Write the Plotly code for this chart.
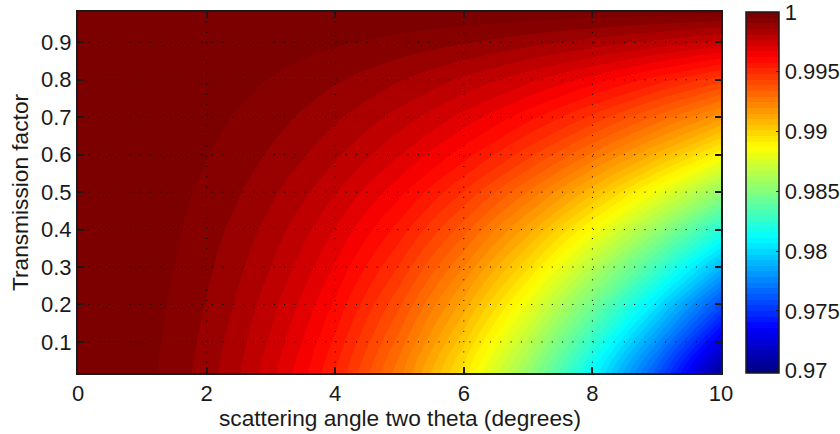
import plotly.graph_objects as go

angle_deg = [0, 1, 1.5, 2, 2.5, 3, 3.5, 4, 5, 6, 7, 8, 9, 10]
transmission = [0.017, 0.05, 0.1, 0.2, 0.3, 0.4, 0.5, 0.6, 0.7, 0.8, 0.9, 0.981]
# drop below 1, in units of 1e-4 (row per transmission value)
drop = [
    [0, 2.95, 6.64, 11.8, 18.44, 26.55, 36.14, 47.2, 73.75, 106.2, 144.55, 188.8, 238.95, 295],
    [0, 2.87, 6.46, 11.48, 17.94, 25.83, 35.16, 45.92, 71.75, 103.32, 140.63, 183.68, 232.47, 287],
    [0, 2.72, 6.12, 10.88, 17.0, 24.48, 33.32, 43.52, 68, 97.92, 133.28, 174.08, 220.32, 272],
    [0, 2.42, 5.45, 9.68, 15.13, 21.78, 29.65, 38.72, 60.5, 87.12, 118.58, 154.88, 196.02, 242],
    [0, 2.1, 4.73, 8.4, 13.13, 18.9, 25.73, 33.6, 52.5, 75.6, 102.9, 134.4, 170.1, 210],
    [0, 1.78, 4.01, 7.12, 11.13, 16.02, 21.81, 28.48, 44.5, 64.08, 87.22, 113.92, 144.18, 178],
    [0, 1.45, 3.26, 5.8, 9.06, 13.05, 17.76, 23.2, 36.25, 52.2, 71.05, 92.8, 117.45, 145],
    [0, 1.12, 2.52, 4.48, 7, 10.08, 13.72, 17.92, 28, 40.32, 54.88, 71.68, 90.72, 112],
    [0, 0.83, 1.87, 3.32, 5.19, 7.47, 10.17, 13.28, 20.75, 29.88, 40.67, 53.12, 67.23, 83],
    [0, 0.55, 1.24, 2.2, 3.44, 4.95, 6.74, 8.8, 13.75, 19.8, 26.95, 35.2, 44.55, 55],
    [0, 0.25, 0.56, 1, 1.56, 2.25, 3.06, 4, 6.25, 9, 12.25, 16, 20.25, 25],
    [0, 0.03, 0.07, 0.12, 0.19, 0.27, 0.37, 0.48, 0.75, 1.08, 1.47, 1.92, 2.43, 3],
]
x_ticks = [0, 2, 4, 6, 8, 10]
y_ticks = [0.1, 0.2, 0.3, 0.4, 0.5, 0.6, 0.7, 0.8, 0.9]
cbar_ticks = [0.97, 0.975, 0.98, 0.985, 0.99, 0.995, 1]
cbar_labels = ["0.97", "0.975", "0.98", "0.985", "0.99", "0.995", "1"]
x_label = "scattering angle two theta (degrees)"
y_label = "Transmission factor"

jet = [
    [0, "rgb(0,0,128)"], [0.125, "rgb(0,0,255)"], [0.375, "rgb(0,255,255)"],
    [0.625, "rgb(255,255,0)"], [0.875, "rgb(255,0,0)"], [0.985, "rgb(125,0,0)"], [1, "rgb(125,0,0)"],
]
FONT = "Liberation Sans"
INK = "#1a1a1a"
TICK_SIZE = 22
TITLE_SIZE = 22.7
z = [[1 - d * 1e-4 for d in row] for row in drop]

fig = go.Figure(go.Contour(
    x=angle_deg, y=transmission, z=z,
    colorscale=jet, zmin=0.9698, zmax=1,
    autocontour=False,
    contours=dict(start=0.9698, end=1.0002, size=0.0302 / 64, coloring="fill", showlines=False),
    line=dict(width=0, smoothing=1.0),
    hoverinfo="skip",
    colorbar=dict(
        x=1.0388, xanchor="left", xpad=0, ypad=0, y=0.5, yanchor="middle", len=1,
        thicknessmode="pixels", thickness=33,
        tickmode="array", tickvals=cbar_ticks, ticktext=cbar_labels,
        ticks="inside", ticklen=3, tickcolor=INK, tickwidth=1,
        outlinecolor=INK, outlinewidth=1.5, ticklabeloverflow="allow",
        tickfont=dict(family=FONT, size=TICK_SIZE, color=INK),
    ),
))

shapes = []
for v in x_ticks[1:-1]:
    shapes.append(dict(type="line", layer="above", xref="x", yref="paper", x0=v, x1=v, y0=0, y1=1,
                       line=dict(color="black", width=1, dash="1px,9.3px")))
for v in y_ticks:
    shapes.append(dict(type="line", layer="above", xref="paper", yref="y", x0=0, x1=1, y0=v, y1=v,
                       line=dict(color="black", width=1, dash="1px,9.3px")))

axis = dict(showgrid=False, zeroline=False, showline=True, linecolor=INK, linewidth=2,
            mirror="allticks", ticks="inside", ticklen=6, tickcolor=INK, tickwidth=1.5,
            automargin=False, tickfont=dict(family=FONT, size=TICK_SIZE, color=INK))

fig.update_layout(
    width=880, height=434, autosize=False,
    margin=dict(l=77.5, r=159, t=11.5, b=61),
    paper_bgcolor="white", plot_bgcolor="white",
    font=dict(family=FONT, color=INK),
    shapes=shapes,
    annotations=[dict(text=x_label, xref="paper", yref="paper", x=0.5, y=0, xanchor="center",
                      yanchor="middle", yshift=-45, showarrow=False,
                      font=dict(family=FONT, size=TITLE_SIZE, color=INK))],
    xaxis=dict(axis, range=[0, 10], tickmode="array", tickvals=x_ticks),
    yaxis=dict(axis, range=[0.017, 0.981], tickmode="array", tickvals=y_ticks,
               tickformat=".1f",
               title=dict(text=y_label, standoff=6,
                          font=dict(family=FONT, size=TITLE_SIZE, color=INK))),
)
fig.write_html("out.html", config=dict(displayModeBar=False),
               post_script="document.body.style.margin='0';document.documentElement.style.overflow='hidden';")
